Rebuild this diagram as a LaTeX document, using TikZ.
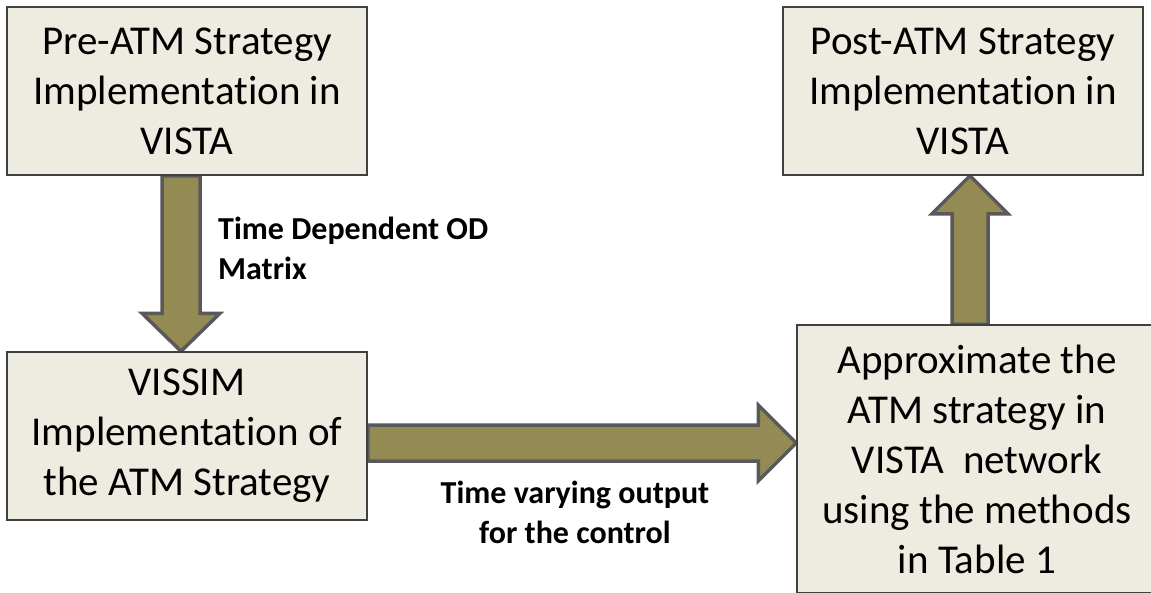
\documentclass[tikz,border=0pt]{standalone}
\usepackage{fontspec}
\setmainfont{Carlito}[Ligatures=NoCommon]
\usetikzlibrary{calc,backgrounds}
\definecolor{boxfill}{HTML}{EEECE1}
\definecolor{boxline}{HTML}{404040}
\definecolor{olivefill}{HTML}{948A54}
\definecolor{arrline}{HTML}{595959}
\tikzset{
  box/.style={draw=boxline,line width=1.5pt,fill=boxfill,minimum width=360pt,
    minimum height=168pt,align=center,inner sep=0pt,font=\fontsize{41}{50}\selectfont},
  bigarrow/.style={draw=arrline,fill=olivefill,line width=3.5pt,line join=miter},
  lbl/.style={inner sep=0pt,font=\bfseries\fontsize{32}{40}\selectfont}
}
\begin{document}
\begin{tikzpicture}[x=1pt,y=-1pt]
  \useasboundingbox (0,0) rectangle (1151,592);
  \clip (0,0) rectangle (1151,592);
  % Boxes
  \node[box] (pre) at (187,91) {Pre-ATM Strategy\\Implementation in\\VISTA};
  \node[box] (vissim) at (187,436) {VISSIM\\Implementation of\\the ATM Strategy};
  \node[box] (post) at (963,91) {Post-ATM Strategy\\Implementation in\\VISTA};
  \node[box,minimum height=268pt] (approx) at (977,459)
    {Approximate the\\ATM strategy in\\VISTA\ \ network\\using the methods\\in Table 1};
  % Anchor points of the block arrows
  \coordinate (d1) at ($(pre.south)+(-6,0)$);
  \coordinate (d2) at (d1 |- vissim.north);
  \coordinate (r1) at ($(vissim.east)+(0,7)$);
  \coordinate (r2) at (approx.west |- r1);
  \coordinate (u2) at ($(post.south)+(7,0)$);
  \coordinate (u1) at (u2 |- approx.north);
  % Block arrows behind the boxes
  \begin{scope}[on background layer]
    \draw[bigarrow] ($(d1)+(-19,0)$) -- ($(d2)+(-19,-38)$) -- ($(d2)+(-39,-38)$) -- (d2)
      -- ($(d2)+(39,-38)$) -- ($(d2)+(19,-38)$) -- ($(d1)+(19,0)$) -- cycle;
    \draw[bigarrow] ($(r1)+(0,-18)$) -- ($(r2)+(-38,-18)$) -- ($(r2)+(-38,-38)$) -- (r2)
      -- ($(r2)+(-38,38)$) -- ($(r2)+(-38,18)$) -- ($(r1)+(0,18)$) -- cycle;
    \draw[bigarrow] ($(u1)+(-18,0)$) -- ($(u2)+(-18,38)$) -- ($(u2)+(-38,38)$) -- (u2)
      -- ($(u2)+(38,38)$) -- ($(u2)+(18,38)$) -- ($(u1)+(18,0)$) -- cycle;
  \end{scope}
  % Labels
  \node[lbl,anchor=west,align=left] (odlbl) at (218,248) {Time Dependent OD\\Matrix};
  \node[lbl,align=center] (outlbl) at (575,512) {Time varying output\\for the control};
\end{tikzpicture}
\end{document}
